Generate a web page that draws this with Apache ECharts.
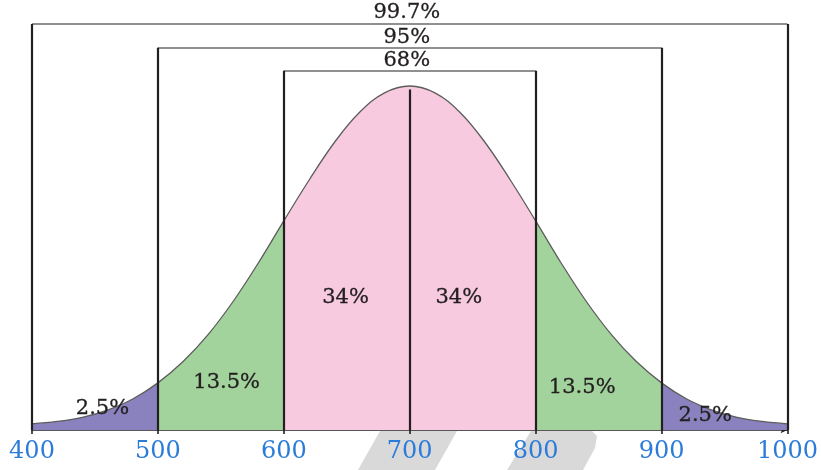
<!DOCTYPE html>
<html>
<head>
<meta charset="utf-8">
<title>Normal distribution – empirical rule</title>
<script src="https://cdn.jsdelivr.net/npm/echarts@6/dist/echarts.min.js"></script>
<style>
  html, body { margin: 0; padding: 0; background: #ffffff; }
  #chart { width: 821px; height: 470px; }
</style>
</head>
<body>
<div id="chart"></div>
<script>
// Sample points along the score axis
const scores = [400, 420, 440, 460, 480, 500, 520, 540, 560, 580, 600, 620, 640, 660, 680, 700,
                720, 740, 760, 780, 800, 820, 840, 860, 880, 900, 920, 940, 960, 980, 1000];
// Relative height of the bell curve at each score (peak = 1)
const curveHeights = [0.018, 0.025, 0.037, 0.058, 0.090, 0.137, 0.199, 0.278, 0.375, 0.487, 0.608,
                      0.726, 0.835, 0.923, 0.980, 1.000, 0.980, 0.923, 0.835, 0.726, 0.608,
                      0.487, 0.375, 0.278, 0.199, 0.137, 0.090, 0.058, 0.037, 0.025, 0.018];
// Axis tick labels
const tickLabels = [400, 500, 600, 700, 800, 900, 1000];
const mean = 700;

// Shaded bands: [from, to]
const bandEdges = [[400, 500], [500, 600], [600, 800], [800, 900], [900, 1000]];
const bandColors = ['#8a82be', '#a3d39c', '#f7cadf', '#a3d39c', '#8a82be'];

// Coverage brackets (outer to inner)
const bracketNames = ['99.7%', '95%', '68%'];
const bracketLow = [400, 500, 600];
const bracketHigh = [1000, 900, 800];

// Share of the distribution inside each band
const bandShares = ['2.5%', '13.5%', '34%', '34%', '13.5%', '2.5%'];

// Drawing layout: bracket bar levels and label anchors (in axis units)
const bracketLevels = [1.180, 1.111, 1.0445];
const bracketLabelAnchors = [[697.7, 1.214], [697.7, 1.141], [697.7, 1.073]];
const shareLabelAnchors = [[456, 0.061], [554.6, 0.137], [649, 0.385], [739, 0.385], [837, 0.124], [934.7, 0.042]];

const curveData = scores.map((s, i) => [s, curveHeights[i]]);
const peak = curveHeights[scores.indexOf(mean)];

const ink = '#231f20';
const barGrey = '#6b6b6b';

const solid = (color, width) => ({ color: color, width: width, type: 'solid' });

const markLines = [];
bracketLow.forEach((lo, i) => {
  const hi = bracketHigh[i];
  const h = bracketLevels[i];
  markLines.push([{ coord: [lo, h], lineStyle: solid(barGrey, 1.7) }, { coord: [hi, h] }]);
  markLines.push([{ coord: [lo, 0], lineStyle: solid(ink, 2.2) }, { coord: [lo, h] }]);
  markLines.push([{ coord: [hi, 0], lineStyle: solid(ink, 2.2) }, { coord: [hi, h] }]);
});
markLines.push([{ coord: [mean, 0], lineStyle: solid(ink, 2.2) }, { coord: [mean, peak * 0.99] }]);

const pieces = bandEdges.map((b, i) => (i === bandEdges.length - 1)
  ? { gte: b[0], lte: b[1], color: bandColors[i] }
  : { gte: b[0], lt: b[1], color: bandColors[i] });

const serif = '"DejaVu Serif", "Liberation Serif", serif';

const textLabel = {
  show: true,
  position: 'inside',
  formatter: p => p.name,
  color: ink,
  fontFamily: serif,
  fontSize: 21,
  textBorderColor: ink,
  textBorderWidth: 0.3
};

const chart = echarts.init(document.getElementById('chart'), null, { renderer: 'canvas' });
chart.setOption({
  animation: false,
  backgroundColor: '#ffffff',
  grid: { left: 32, right: 28, top: 0, bottom: 40, containLabel: false },
  xAxis: {
    type: 'value',
    min: 400,
    max: 1000,
    interval: 100,
    axisLine: {
      show: true,
      symbol: ['none', 'arrow'],
      symbolSize: [5, 7],
      lineStyle: { color: ink, width: 1.6 }
    },
    axisTick: { show: true, length: 4, lineStyle: { color: ink, width: 1.6 } },
    splitLine: { show: false },
    axisLabel: {
      margin: 10,
      color: '#2b7bd9',
      fontFamily: serif,
      fontSize: 24,
      formatter: v => (tickLabels.indexOf(v) >= 0 ? String(v) : '')
    }
  },
  yAxis: { type: 'value', min: 0, max: 1.25, show: false },
  visualMap: {
    type: 'piecewise',
    show: false,
    dimension: 0,
    seriesIndex: 0,
    pieces: pieces
  },
  graphic: [
    {
      type: 'polygon', z: -1, silent: true,
      shape: { points: [[380, 431], [457, 431], [435, 470], [358, 470]] },
      style: { fill: '#d9d9d9' }
    },
    {
      type: 'polygon', z: -1, silent: true,
      shape: { points: [[531, 431], [592, 431], [597, 436], [595, 448], [583, 470], [507, 470]] },
      style: { fill: '#d9d9d9' }
    }
  ],
  series: [
    {
      name: 'bands',
      type: 'line',
      data: curveData,
      smooth: 0.4,
      symbol: 'none',
      lineStyle: { width: 0 },
      areaStyle: { opacity: 1 },
      z: 1,
      silent: true
    },
    {
      name: 'curve',
      type: 'line',
      data: curveData,
      smooth: 0.4,
      symbol: 'none',
      lineStyle: { color: '#5c5c5c', width: 1.3 },
      z: 2,
      silent: true,
      markLine: {
        silent: true,
        symbol: ['none', 'none'],
        label: { show: false },
        emphasis: { disabled: true },
        data: markLines
      }
    },
    {
      name: 'bracket labels',
      type: 'scatter',
      data: bracketLabelAnchors.map((p, i) => ({ value: p, name: bracketNames[i] })),
      symbolSize: 1,
      itemStyle: { color: 'transparent', opacity: 1 },
      z: 3,
      silent: true,
      label: textLabel
    },
    {
      name: 'band shares',
      type: 'scatter',
      data: shareLabelAnchors.map((p, i) => ({ value: p, name: bandShares[i] })),
      symbolSize: 1,
      itemStyle: { color: 'transparent', opacity: 1 },
      z: 3,
      silent: true,
      label: textLabel
    }
  ]
});
</script>
</body>
</html>
